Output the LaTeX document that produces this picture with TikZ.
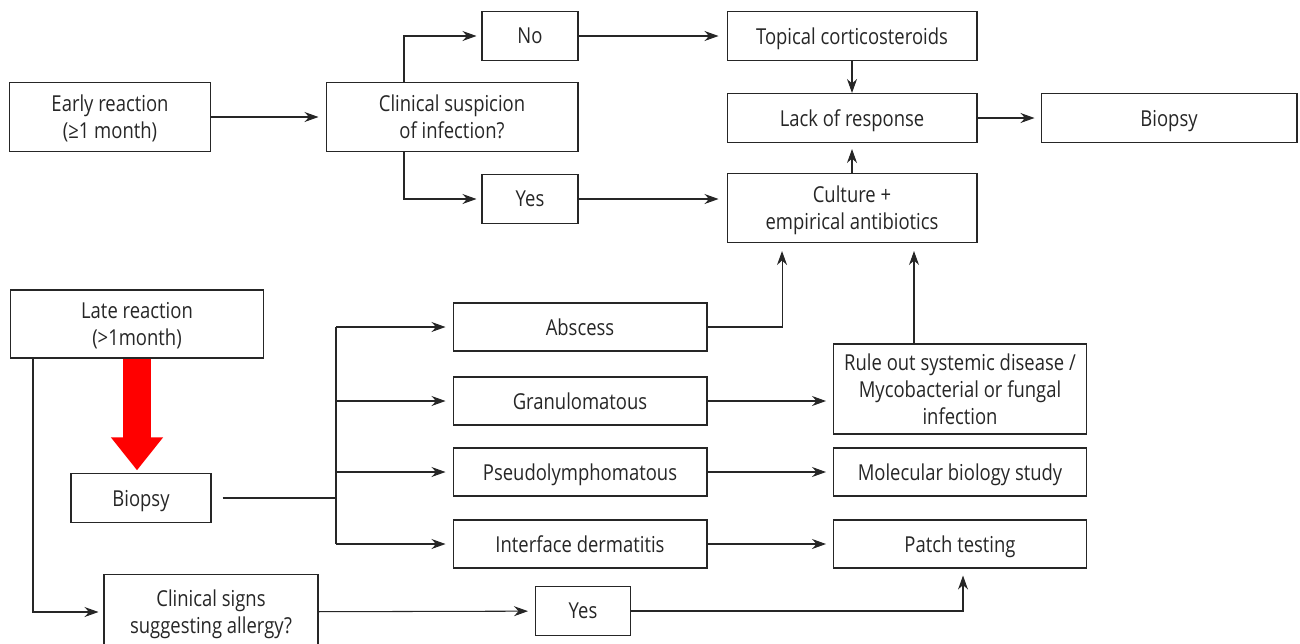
\documentclass[tikz,border=0pt]{standalone}
\usepackage{fontspec}
\setmainfont[FakeStretch=0.84]{Open Sans}
\usetikzlibrary{arrows.meta}

\begin{document}
\begin{tikzpicture}[x=0.02cm, y=-0.02cm, line width=0.6pt, color=black!85,
    main/.style = {draw, rectangle, align=center, inner sep=0pt, text depth=0pt,
                   font=\fontsize{12.5}{15.5}\selectfont},
    >={Stealth[length=2.8mm, width=2mm]},
    bigarrow/.style = {draw=red, line width=0.56cm, -{Triangle[length=0.66cm, width=1cm]}}]
            \useasboundingbox (0,0) rectangle (1300,643);

            % early reaction
            \node[main,minimum width=4.02cm,minimum height=1.38cm] (1) at (110,117) {Early reaction\\(≥1 month)};
            \node[main,minimum width=5.04cm,minimum height=1.38cm] (2) at (452,117) {Clinical suspicion\\of infection?};
            \node[main,minimum width=1.92cm,minimum height=0.98cm] (3) at (530,36) {No};
            \node[main,minimum width=1.92cm,minimum height=0.98cm] (4) at (530,199) {Yes};
            \node[main,minimum width=5cm,minimum height=0.98cm] (5) at (852,36) {Topical corticosteroids};
            \node[main,minimum width=5cm,minimum height=0.98cm] (6) at (852,118) {Lack of response};
            \node[main,minimum width=5cm,minimum height=1.38cm] (7) at (852,208) {Culture +\\empirical antibiotics};
            \node[main,minimum width=5.12cm,minimum height=0.98cm] (8) at (1169,118) {Biopsy};

            % late reaction
            \node[main,minimum width=5.06cm,minimum height=1.36cm] (9) at (137,324) {Late reaction\\(>1month)};
            \node[main,minimum width=2.8cm,minimum height=0.98cm] (10) at (141,498) {Biopsy};
            \node[main,minimum width=5.08cm,minimum height=0.96cm] (11) at (580,327) {Abscess};
            \node[main,minimum width=5.08cm,minimum height=0.96cm] (12) at (580,401) {Granulomatous};
            \node[main,minimum width=5.08cm,minimum height=0.96cm] (13) at (580,472) {Pseudolymphomatous};
            \node[main,minimum width=5.08cm,minimum height=0.96cm] (14) at (580,544) {Interface dermatitis};
            \node[main,minimum width=5.06cm,minimum height=1.8cm] (15) at (960,389) {Rule out systemic disease /\\Mycobacterial or fungal\\infection};
            \node[main,minimum width=5.06cm,minimum height=0.96cm] (16) at (960,472) {Molecular biology study};
            \node[main,minimum width=5.06cm,minimum height=0.96cm] (17) at (960,544) {Patch testing};
            \node[main,minimum width=4.28cm,minimum height=1.5cm] (18) at (211,612) {Clinical signs\\suggesting allergy?};
            \node[main,minimum width=1.9cm,minimum height=0.98cm] (19) at (583,611) {Yes};

            \coordinate (t) at (336,498);
            \coordinate (c) at ([xshift=1.24cm]7.south);

            \draw[->,shorten >=1.4mm] (1) -- (2);
            \draw[->,shorten >=1mm] ([xshift=-0.96cm]2.north) |- (3);
            \draw[->,shorten >=1mm] ([xshift=-0.96cm]2.south) |- (4);
            \draw[->,shorten >=1.6mm] (3) -- (5);
            \draw[->,shorten >=1.6mm] (4) -- (4 -| 7.west);
            \draw[->] (5) -- (6);
            \draw[->,shorten >=1.2mm] (7) -- (6);
            \draw[->,shorten >=1.2mm] (6) -- (8);

            \draw[bigarrow] (9.south -| 137,0) -- ([yshift=1.5pt]10.north -| 137,0);
            \draw ([xshift=0.22cm]10.east) -- (t);
            \draw (t |- 11) -- (t |- 14);
            \foreach \n in {11,...,14}
                \draw[->,shorten >=1.4mm] (t |- \n) -- (\n);
            \draw[->,shorten >=1.6mm] (11) -| ([xshift=-1.4cm]7.south);
            \draw[->,shorten >=1.6mm] (c |- 15.north) -- (c);
            \draw[->,shorten >=1.4mm] (12) -- (12 -| 15.west);
            \draw[->,shorten >=1.4mm] (13) -- (16);
            \draw[->,shorten >=1.4mm] (14) -- (17);

            \draw[->,shorten >=1mm] ([xshift=0.46cm]9.south west) |- (18.west);
            \draw[->,shorten >=1.4mm] (18) -- (19);
            \draw[->,shorten >=1.4mm] (19) -| ([xshift=0.06cm]17.south);
        \end{tikzpicture}
\end{document}
